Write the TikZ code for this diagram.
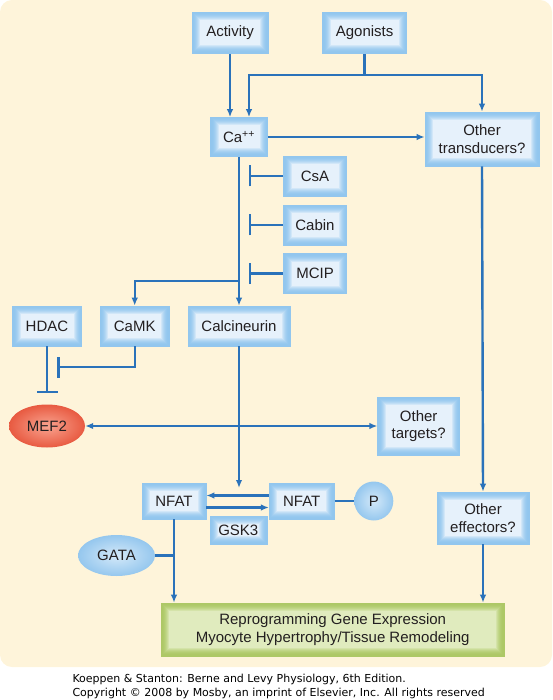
\documentclass[tikz,border=0pt]{standalone}
\usepackage{fontspec}
\setmainfont{Liberation Sans}
\newfontfamily\footfont{DejaVu Sans}
\usepackage{tikz}
\usetikzlibrary{arrows.meta,shapes.geometric}

\definecolor{panel}{HTML}{FEF4DA}
\definecolor{txt}{HTML}{231F20}
\definecolor{link}{HTML}{2A72BA}
\definecolor{boxrim}{HTML}{92C6EE}
\definecolor{boxin}{HTML}{E6F1FB}
\definecolor{grrim}{HTML}{ADC866}
\definecolor{grin}{HTML}{E0EBBE}
\definecolor{mefin}{HTML}{F9A490}
\definecolor{mefout}{HTML}{E85A41}
\definecolor{ovin}{HTML}{D4E9F9}
\definecolor{ovout}{HTML}{95C7EE}

\begin{document}
\begin{tikzpicture}[x=1pt,y=-1pt,>={Latex[length=8pt,width=6.5pt]},
	pillow/.style args={#1/#2}{draw=#1,line width=0.6pt,fill=#1,inner sep=0pt,
		path picture={
			\foreach \k in {1,...,8}
				\fill[#2!\fpeval{(\k/8)^2*100}!#1] ([shift={(\k*1pt,\k*1pt)}]path picture bounding box.south west) rectangle ([shift={(-\k*1pt,-\k*1pt)}]path picture bounding box.north east);}},
	box/.style={pillow=boxrim/boxin,text=txt,align=center,font=\fontsize{15}{17.5}\selectfont},
	greenbox/.style={pillow=grrim/grin,text=txt,align=center,font=\fontsize{15}{17.5}\selectfont},
	oval/.style={ellipse,inner sep=0pt,inner color=ovin,outer color=ovout,text=txt,font=\fontsize{15}{17.5}\selectfont},
	link/.style={draw=link,line width=2.4pt},
	stop/.style={link,-{Bar[width=21pt]}}]

		\useasboundingbox (0,0) rectangle (552,700);
		\fill[panel,rounded corners=12pt] (0,0) rectangle (552,667);

		\node[box,minimum width=76pt,minimum height=41pt] (activity) at (230,33) {Activity};
		\node[box,minimum width=84pt,minimum height=41pt] (agonists) at (364.6,33) {Agonists};
		\node[box,minimum width=57pt,minimum height=39pt] (ca) at (239,137) {Ca\textsuperscript{++}};
		\node[box,minimum width=114pt,minimum height=54pt] (transducers) at (482,139) {Other\\transducers?};
		\node[box,minimum width=63pt,minimum height=40pt] (csa) at (315,176) {CsA};
		\node[box,minimum width=63pt,minimum height=40pt] (cabin) at (315,225) {Cabin};
		\node[box,minimum width=63pt,minimum height=40pt] (mcip) at (315,273.5) {MCIP};
		\node[box,minimum width=69pt,minimum height=40pt] (hdac) at (47,326) {HDAC};
		\node[box,minimum width=69pt,minimum height=40pt] (camk) at (134.7,326) {CaMK};
		\node[box,minimum width=102pt,minimum height=40pt] (calcineurin) at (239,326) {Calcineurin};
		\node[oval,minimum width=76pt,minimum height=43pt,inner color=mefin,outer color=mefout] (mef) at (47,426) {MEF2};
		\node[box,minimum width=82pt,minimum height=58pt] (targets) at (418.7,426) {Other\\targets?};
		\node[box,minimum width=64pt,minimum height=36pt] (nfat) at (174,501) {NFAT};
		\node[box,minimum width=65pt,minimum height=36pt] (nfatp) at (301.7,501) {NFAT};
		\node[oval,circle,minimum size=39pt] (p) at (373.8,501) {P};
		\node[box,minimum width=57pt,minimum height=28pt] (gsk) at (238.3,530) {GSK3};
		\node[box,minimum width=92pt,minimum height=52pt] (effectors) at (483,518) {Other\\effectors?};
		\node[oval,minimum width=77pt,minimum height=41pt] (gata) at (116.5,555.5) {GATA};
		\node[greenbox,minimum width=343pt,minimum height=53pt] (gene) at (332.7,629.5) {Reprogramming Gene Expression\\Myocyte Hypertrophy/Tissue Remodeling};

		\coordinate (split) at (364.6,75);
		\coordinate (caleft) at (249,75);
		\coordinate (barx) at (249,0);
		\coordinate (branch) at (239,281);
		\coordinate (hdacbar) at (47,393);
		\coordinate (camkbar) at (57.4,367);
		\coordinate (gap) at (239,488);

		\draw[link,->] (activity.south) -- (activity.south |- ca.north);
		\draw[link] (agonists.south) -- (split);
		\draw[link,->] (split) -| (ca.north -| caleft);
		\draw[link,->] (split) -| (transducers.north);
		\draw[link,->] (ca.east) -- (ca.east -| transducers.west);
		\draw[link,->] (ca.south) -- (calcineurin.north);
		\draw[link,->] (branch) -| (camk.north);
		\draw[stop] (csa.west) -- (csa.west -| barx);
		\draw[stop] (cabin.west) -- (cabin.west -| barx);
		\draw[stop] (mcip.west) -- (mcip.west -| barx);
		\draw[stop] (hdac.south) -- (hdacbar);
		\draw[stop] (camk.south) |- (camkbar);
		\draw[link,<->] (mef.east) -- (mef.east -| targets.west);
		\draw[link,->] (calcineurin.south) -- (gap);
		\draw[link,->] ([yshift=5.5pt]nfatp.west) -- ([yshift=5.5pt]nfatp.west -| nfat.east);
		\draw[link,->] ([yshift=-6.5pt]nfat.east) -- ([yshift=-6.5pt]nfat.east -| nfatp.west);
		\draw[link] (nfatp.east) -- (p.west);
		\draw[link,->] (transducers.south) -- (effectors.north);
		\draw[link] (gata.east) -- (gata.east -| nfat.south);
		\draw[link,->] (nfat.south) -- (nfat.south |- gene.north);
		\draw[link,->] (effectors.south) -- (effectors.south |- gene.north);

		\node[anchor=west,align=left,text=black,font=\footfont\fontsize{11}{13.5}\selectfont] (credit) at (69,686.5) {Koeppen \& Stanton: Berne and Levy Physiology, 6th Edition.\\Copyright \textcopyright{} 2008 by Mosby, an imprint of Elsevier, Inc. All rights reserved};

	\end{tikzpicture}
\end{document}
